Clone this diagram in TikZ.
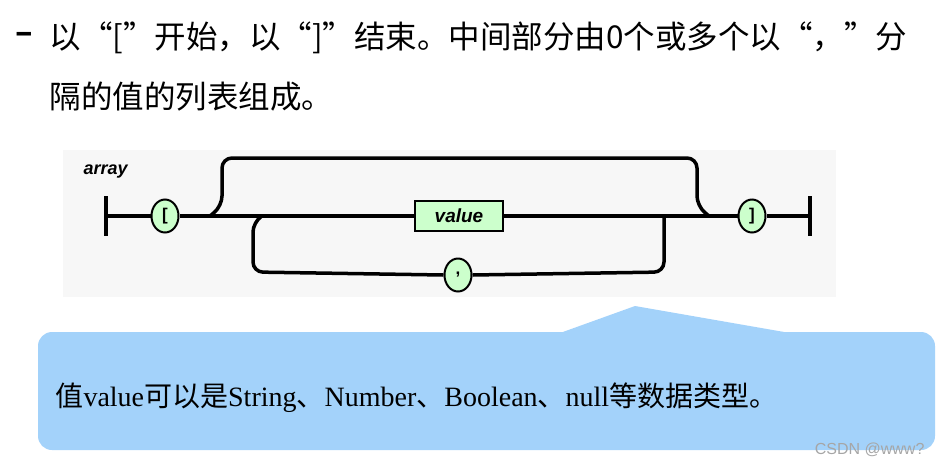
\documentclass[tikz,border=0pt]{standalone}
\usepackage{fontspec}
\setmainfont{Liberation Serif}
\setsansfont{Liberation Sans}
\newfontfamily\cjk{Noto Sans CJK SC}
\usetikzlibrary{calc,shapes.geometric}
\definecolor{railgreen}{HTML}{CCFFCC}
\definecolor{panelgray}{HTML}{F7F7F7}
\definecolor{callblue}{HTML}{A3D2FA}

\begin{document}
\begin{tikzpicture}[x=1pt,y=-1pt,
    rail/.style={line width=3.5pt, rounded corners=10pt},
    term/.style={ellipse, draw, line width=2pt, fill=railgreen,
        minimum width=27pt, minimum height=33pt, inner sep=0pt,
        font=\sffamily\bfseries\fontsize{17}{19}\selectfont},
    nonterm/.style={rectangle, draw, line width=2pt, fill=railgreen,
        minimum width=88pt, minimum height=30pt,
        font=\sffamily\bfseries\itshape\fontsize{19}{21}\selectfont}]
    \useasboundingbox (0,0) rectangle (940,467);

    % heading text
    \node[anchor=west, font=\cjk\bfseries\fontsize{32}{36}\selectfont] (dash) at (12,38) {–};
    \node[anchor=west, font=\cjk\fontsize{31.5}{36}\selectfont] (line1) at (46,38)
        {以“[”开始，以“]”结束。中间部分由0个或多个以“，”分};
    \node[anchor=west, font=\cjk\fontsize{31.5}{36}\selectfont] (line2) at (46,97)
        {隔的值的列表组成。};

    % railroad diagram
    \fill[panelgray] (63,150) rectangle (836,297);
    \node[anchor=west, font=\sffamily\bfseries\itshape\fontsize{18}{20}\selectfont] (title) at (80,172) {array};
    \coordinate (start) at (106,216);
    \coordinate (stop) at (810,216);
    \node[term] (open) at (165,216) {[};
    \node[nonterm] (value) at (459,216) {value};
    \node[term] (comma) at (458,275) {,};
    \node[term] (close) at (752,216) {]};

    \draw[line width=3.5pt] ($(start)+(0,-20)$) -- ($(start)+(0,20)$);
    \draw[line width=3.5pt] ($(stop)+(0,-20)$) -- ($(stop)+(0,20)$);
    \draw[line width=3.5pt] (start) -- (open);
    \draw[line width=3.5pt] (open) -- (value);
    \draw[line width=3.5pt] (value) -- (close);
    \draw[line width=3.5pt] (close) -- (stop);
    \draw[rail] (210,216) -- (222,206) -- (222,158) -- (697,158) -- (697,206) -- (709,216);
    \draw[rail] (664,216) -- (664,272) -- (comma.east);
    \draw[rail] (comma.west) -- (253,272) -- (253,222) -- (262,216);

    % callout
    \fill[callblue, rounded corners=14pt] (38,332) rectangle (935,450);
    \fill[callblue] (560,333) -- (635,306) -- (790,333) -- cycle;
    \node[anchor=west, font=\fontsize{28}{32}\selectfont] (note) at (52,398)
        {{\cjk 值}value{\cjk 可以是}String{\cjk 、}Number{\cjk 、}Boolean{\cjk 、}null{\cjk 等数据类型。}};
    \node[anchor=east, text=gray!70, font=\sffamily\fontsize{16}{18}\selectfont] (mark) at (928,450) {CSDN @www?};
\end{tikzpicture}
\end{document}
